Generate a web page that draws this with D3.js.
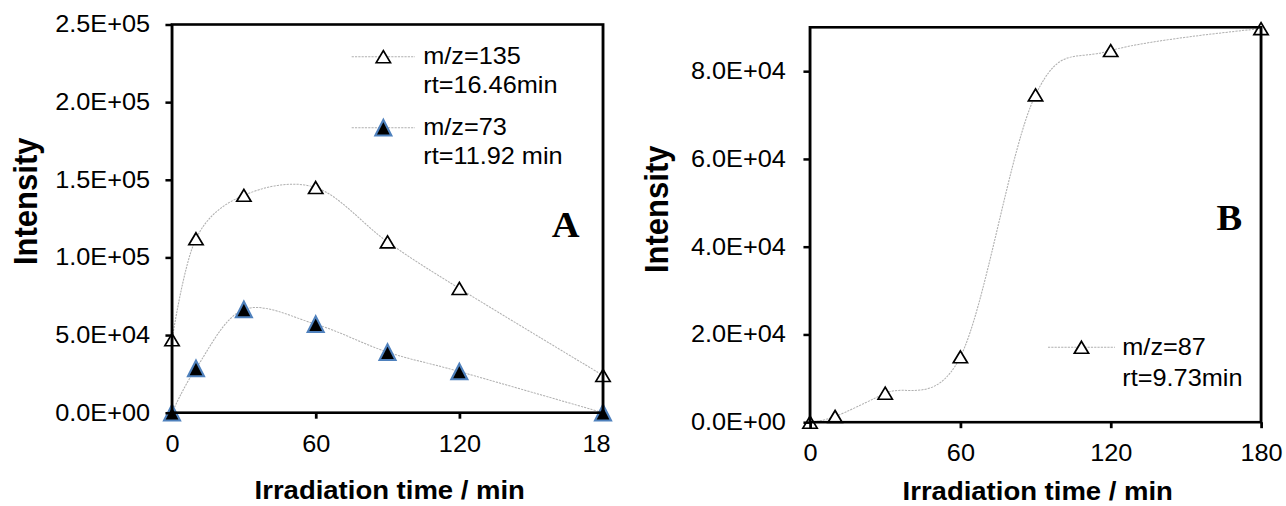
<!DOCTYPE html>
<html>
<head>
<meta charset="utf-8">
<script src="https://cdn.jsdelivr.net/npm/d3@7"></script>
<style>
  html, body { margin: 0; padding: 0; background: #fff; }
  svg { display: block; }
</style>
</head>
<body>
<svg id="chart"></svg>
<script>
// ---------- data ----------
const times = [0, 10, 30, 60, 90, 120, 180];
const mz135 = [47000, 112000, 140000, 145000, 110000, 80000, 24000];
const mz73  = [0, 28500, 66500, 57000, 39000, 26500, 0];
const mz87  = [0, 1300, 6600, 14900, 74600, 84700, 89700];

const xTickValues = [0, 60, 120, 180];
const xTickLabelsA = ["0", "60", "120", "18"];
const xTickLabelsB = ["0", "60", "120", "180"];
const yTicksA = [0, 50000, 100000, 150000, 200000, 250000];
const yTicksB = [0, 20000, 40000, 60000, 80000];

const legendA = [
  { lines: ["m/z=135", "rt=16.46min"], filled: false },
  { lines: ["m/z=73", "rt=11.92 min"], filled: true }
];
const legendB = [
  { lines: ["m/z=87", "rt=9.73min"], filled: false }
];

// ---------- layout ----------
const W = 1286, H = 506, SX = 1.1;          // picture is stretched horizontally
const VW = W / SX;
const svg = d3.select("#chart")
  .attr("width", W).attr("height", H)
  .attr("viewBox", `0 0 ${VW} ${H}`)
  .attr("preserveAspectRatio", "none");

const FONT = "Arial, 'Liberation Sans', Helvetica, sans-serif";
const lineColor = "#b0b0b0";
const blue = "#4f81bd";

function sci(v) {
  if (v === 0) return "0.0E+00";
  const e = Math.floor(Math.log10(v));
  const m = v / Math.pow(10, e);
  return m.toFixed(1) + "E+" + String(e).padStart(2, "0");
}

function triPath(w, h) {
  return `M0,${-h / 2}L${w / 2},${h / 2}L${-w / 2},${h / 2}Z`;
}
const openTri = triPath(13, 12);
const fillTri = triPath(14.5, 15.5);

function marker(g, filled) {
  return g.append("path")
    .attr("d", filled ? fillTri : openTri)
    .attr("fill", filled ? "#000" : "#fff")
    .attr("stroke", filled ? blue : "#000")
    .attr("stroke-width", filled ? 2 : 1.6)
    .attr("stroke-linejoin", "miter");
}

function panel(cfg) {
  const x = d3.scaleLinear().domain([0, 180]).range([cfg.left, cfg.right]);
  const y = d3.scaleLinear().domain([0, cfg.ymax]).range([cfg.bottom, cfg.top]);
  const g = svg.append("g");

  const line = d3.line()
    .x((d, i) => x(times[i]))
    .y(d => y(d))
    .curve(d3.curveCardinal.tension(0));

  // curves
  cfg.series.forEach(s => {
    g.append("path").datum(s.values)
      .attr("d", line)
      .attr("fill", "none")
      .attr("stroke", lineColor)
      .attr("stroke-width", 1)
      .attr("stroke-dasharray", "2 1");
  });
  // markers
  cfg.series.forEach(s => {
    s.values.forEach((v, i) => {
      marker(g, s.filled).attr("transform", `translate(${x(times[i])},${y(v)})`);
    });
  });

  // axes
  const ya = g.append("g").attr("transform", `translate(${cfg.left},0)`)
    .call(d3.axisLeft(y).tickValues(cfg.yTicks).tickFormat(sci).tickSize(6).tickPadding(cfg.yPad));
  ya.select(".domain").remove();
  ya.selectAll("line").attr("stroke", "#000").attr("stroke-width", 2.5);
  ya.selectAll("text").attr("font-family", FONT).attr("font-size", 23).attr("fill", "#000");

  const xa = g.append("g").attr("transform", `translate(0,${cfg.bottom})`)
    .call(d3.axisBottom(x).tickValues(xTickValues)
      .tickFormat((d, i) => cfg.xLabels[i]).tickSize(6));
  xa.select(".domain").remove();
  xa.selectAll("line").attr("stroke", "#000").attr("stroke-width", 2.5);
  xa.selectAll("text").attr("font-family", FONT).attr("font-size", 23).attr("fill", "#000")
    .attr("y", 39).attr("dy", null)
    .attr("dx", (d, i) => cfg.xLabels[i].length < String(d).length ? -6.4 : 0);

  // frame
  g.append("rect")
    .attr("x", cfg.left).attr("y", cfg.top)
    .attr("width", cfg.right - cfg.left).attr("height", cfg.bottom - cfg.top)
    .attr("fill", "none").attr("stroke", "#000").attr("stroke-width", 2.6);

  // axis titles
  g.append("text")
    .attr("x", (cfg.left + cfg.right) / 2 + 2).attr("y", cfg.xTitleY)
    .attr("text-anchor", "middle")
    .attr("font-family", FONT).attr("font-weight", "bold").attr("font-size", 25)
    .text("Irradiation time / min");
  g.append("text")
    .attr("transform", `translate(${cfg.yTitleX},${cfg.yTitleY}) rotate(-90)`)
    .attr("text-anchor", "start")
    .attr("font-family", FONT).attr("font-weight", "bold").attr("font-size", 31)
    .text("Intensity");

  // panel letter
  g.append("text")
    .attr("x", cfg.letterX).attr("y", cfg.letterY)
    .attr("font-family", "'Liberation Serif', 'Times New Roman', serif")
    .attr("font-weight", "bold").attr("font-size", 35)
    .text(cfg.letter);

  // legend
  cfg.legend.forEach((item, k) => {
    const ly = cfg.legY + k * cfg.legStep;
    g.append("line")
      .attr("x1", cfg.legX1).attr("x2", cfg.legX2).attr("y1", ly).attr("y2", ly)
      .attr("stroke", lineColor).attr("stroke-width", 1).attr("stroke-dasharray", "2 1");
    marker(g, item.filled).attr("transform", `translate(${(cfg.legX1 + cfg.legX2) / 2},${ly})`);
    const t = g.append("text")
      .attr("font-family", FONT).attr("font-size", 23).attr("fill", "#000");
    item.lines.forEach((s, j) => {
      t.append("tspan").attr("x", cfg.legTextX).attr("y", ly + 7.6 + j * cfg.legLine).text(s);
    });
  });
}

panel({
  left: 156.4, right: 548.2, top: 24.5, bottom: 412.7, ymax: 250000,
  yTicks: yTicksA, yPad: 14, xLabels: xTickLabelsA,
  series: [{ values: mz135, filled: false }, { values: mz73, filled: true }],
  xTitleY: 499, yTitleX: 33.4, yTitleY: 265,
  letter: "A", letterX: 501.5, letterY: 236.7,
  legend: legendA, legX1: 319.7, legX2: 377.3, legTextX: 384.8, legY: 56.7, legStep: 71, legLine: 29
});

panel({
  left: 736.4, right: 1146.4, top: 27.3, bottom: 422.2, ymax: 90000,
  yTicks: yTicksB, yPad: 16, xLabels: xTickLabelsB,
  series: [{ values: mz87, filled: false }],
  xTitleY: 500, yTitleX: 607.5, yTitleY: 273,
  letter: "B", letterX: 1106, letterY: 230,
  legend: legendB, legX1: 952.7, legX2: 1013.6, legTextX: 1020.3, legY: 347.3, legStep: 71, legLine: 30.7
});
</script>
</body>
</html>
